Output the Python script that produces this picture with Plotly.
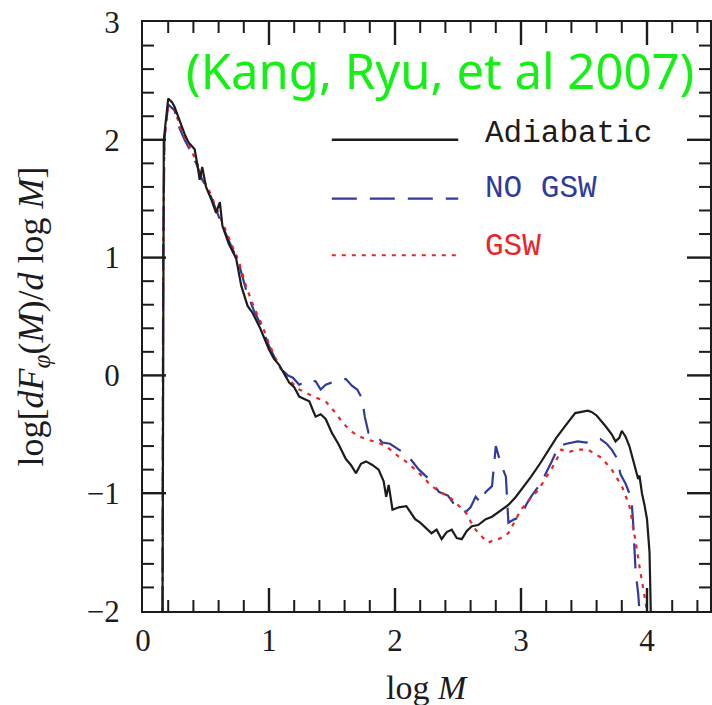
import plotly.graph_objects as go

# ---- data ----
adi_x = [0.155, 0.16, 0.165, 0.2, 0.23, 0.25, 0.29, 0.33, 0.36, 0.41, 0.43, 0.45, 0.47, 0.5, 0.54, 0.58,
         0.61, 0.63, 0.68, 0.74, 0.78, 0.83, 0.87, 0.93, 1.0, 1.04, 1.08, 1.12, 1.16, 1.2, 1.24, 1.28, 1.32,
         1.35, 1.37, 1.41, 1.45, 1.5, 1.55, 1.61, 1.65, 1.69, 1.73, 1.77, 1.82, 1.87, 1.91, 1.93, 1.95, 1.98,
         2.03, 2.09, 2.13, 2.16, 2.2, 2.25, 2.29, 2.33, 2.37, 2.41, 2.45, 2.49, 2.53, 2.57, 2.61, 2.66, 2.72,
         2.77, 2.82, 2.9, 2.96, 3.02, 3.08, 3.15, 3.22, 3.28, 3.35, 3.43, 3.48, 3.53, 3.56, 3.6, 3.67, 3.72,
         3.75, 3.78, 3.8, 3.83, 3.86, 3.9, 3.93, 3.94, 3.96, 3.98, 4.0, 4.02, 4.03]
adi_y = [-2.0, 1.0, 2.0, 2.35, 2.32, 2.28, 2.16, 2.05, 1.98, 1.92, 1.8, 1.66, 1.77, 1.6, 1.5, 1.38,
         1.47, 1.27, 1.12, 0.99, 0.76, 0.59, 0.53, 0.4, 0.22, 0.14, 0.09, 0.02, -0.06, -0.1, -0.18, -0.2, -0.22,
         -0.3, -0.35, -0.33, -0.37, -0.49, -0.58, -0.71, -0.76, -0.83, -0.75, -0.73, -0.76, -0.8, -0.9, -1.03,
         -0.93, -1.14, -1.12, -1.11, -1.17, -1.22, -1.25, -1.3, -1.34, -1.31, -1.39, -1.33, -1.31, -1.38, -1.39,
         -1.32, -1.28, -1.27, -1.22, -1.2, -1.16, -1.1, -1.03, -0.95, -0.86, -0.75, -0.63, -0.53, -0.43, -0.32,
         -0.31, -0.3, -0.31, -0.34, -0.43, -0.5, -0.56, -0.53, -0.47, -0.52, -0.6, -0.75, -0.88, -0.85, -1.0,
         -1.1, -1.22, -1.5, -2.0]

nogsw_x = [0.155, 0.16, 0.17, 0.2, 0.25, 0.29, 0.33, 0.38, 0.43, 0.47, 0.52, 0.58, 0.63, 0.7, 0.76, 0.82,
           0.88, 0.94, 1.0, 1.05, 1.1, 1.15, 1.19, 1.24, 1.3, 1.37, 1.41, 1.45, 1.5, 1.56, 1.61, 1.66, 1.7,
           1.74, 1.76, 1.79, 1.84, 1.9, 1.96, 2.03, 2.1, 2.19, 2.27, 2.35, 2.42, 2.48, 2.56, 2.6, 2.64, 2.68,
           2.72, 2.77, 2.8, 2.84, 2.88, 2.9, 2.95, 3.0, 3.04, 3.08, 3.16, 3.24, 3.3, 3.36, 3.45, 3.52, 3.58,
           3.63, 3.68, 3.72, 3.76, 3.79, 3.83, 3.86, 3.88, 3.89, 3.91, 3.93, 3.94]
nogsw_y = [-2.0, 1.0, 2.0, 2.3, 2.25, 2.1, 2.0, 1.9, 1.78, 1.66, 1.57, 1.4, 1.27, 1.1, 0.95, 0.72,
           0.55, 0.42, 0.25, 0.14, 0.05, 0.0, -0.02, -0.08, -0.04, -0.05, -0.12, -0.08, -0.06, -0.05, -0.03,
           -0.09, -0.12, -0.2, -0.35, -0.49, -0.5, -0.57, -0.58, -0.63, -0.68, -0.8, -0.88, -0.99, -1.02,
           -1.11, -1.16, -1.12, -1.03, -1.08, -0.99, -0.94, -0.6, -0.75, -0.86, -1.25, -1.22, -1.2, -1.1,
           -1.03, -0.91, -0.74, -0.6, -0.58, -0.56, -0.57, -0.54, -0.54, -0.58, -0.63, -0.7, -0.84, -0.92,
           -1.0, -1.1, -1.25, -1.67, -1.85, -2.0]

gsw_x = [0.155, 0.16, 0.17, 0.2, 0.25, 0.29, 0.33, 0.38, 0.43, 0.47, 0.52, 0.58, 0.63, 0.7, 0.76, 0.82,
         0.88, 0.94, 1.0, 1.05, 1.1, 1.16, 1.24, 1.3, 1.35, 1.45, 1.53, 1.57, 1.61, 1.66, 1.72, 1.8, 1.87,
         1.95, 2.03, 2.1, 2.16, 2.22, 2.29, 2.36, 2.43, 2.5, 2.56, 2.6, 2.64, 2.69, 2.74, 2.78, 2.82, 2.86,
         2.9, 2.95, 3.0, 3.07, 3.14, 3.19, 3.24, 3.28, 3.32, 3.38, 3.45, 3.53, 3.58, 3.64, 3.68, 3.72, 3.76,
         3.8, 3.83, 3.86, 3.88, 3.9, 3.92, 3.94, 3.96, 3.98, 4.0]
gsw_y = [-2.0, 1.0, 2.0, 2.28, 2.27, 2.12, 2.02, 1.92, 1.8, 1.68, 1.58, 1.42, 1.3, 1.12, 0.97, 0.75,
         0.58, 0.44, 0.27, 0.15, 0.04, -0.04, -0.12, -0.15, -0.18, -0.22, -0.32, -0.38, -0.43, -0.48, -0.52,
         -0.55, -0.57, -0.62, -0.69, -0.74, -0.8, -0.86, -0.94, -0.99, -1.03, -1.1, -1.16, -1.24, -1.31,
         -1.37, -1.42, -1.4, -1.39, -1.37, -1.34, -1.24, -1.14, -1.05, -0.97, -0.88, -0.8, -0.72, -0.63,
         -0.65, -0.63, -0.63, -0.66, -0.7, -0.75, -0.8, -0.87, -0.94, -1.02, -1.11, -1.22, -1.34, -1.48,
         -1.62, -1.75, -1.88, -2.0]

x_ticks = [0, 1, 2, 3, 4]
y_ticks = [-2, -1, 0, 1, 2, 3]
series_names = ["Adiabatic", "NO GSW", "GSW"]
citation = "(Kang, Ryu, et al 2007)"

# ---- styles ----
BLACK = "#1c1c1c"
BLUE = "#2f3c9c"
RED = "#e8262a"
styles = [dict(color=BLACK, width=2.2, dash="solid"),
          dict(color=BLUE, width=2.2, dash="25px,13px"),
          dict(color=RED, width=2.2, dash="4px,6px")]
SERIF = "Liberation Serif"
MONO = "Liberation Mono"
X_RANGE = [0, 4.5]
Y_RANGE = [-2, 3]
W, H = 712, 705
ML, MR, MT, MB = 143, 2, 22, 94
PLOT_W, PLOT_H = W - ML - MR, H - MT - MB
MAJOR_LEN, MINOR_LEN = 23, 11
MINOR_STEP = 0.2

fig = go.Figure()
for (xs, ys), name, st in zip([(nogsw_x, nogsw_y), (gsw_x, gsw_y), (adi_x, adi_y)],
                              [series_names[1], series_names[2], series_names[0]],
                              [styles[1], styles[2], styles[0]]):
    fig.add_trace(go.Scatter(x=xs, y=ys, mode="lines", name=name, line=st, showlegend=False))

axis_common = dict(showline=True, linewidth=2, linecolor=BLACK, mirror=True, ticks="",
                   showgrid=False, zeroline=False, tickmode="array",
                   tickfont=dict(family=SERIF, size=31, color=BLACK))
fig.update_layout(
    template="none",
    xaxis=dict(range=X_RANGE, tickvals=x_ticks, ticklabelstandoff=1, **axis_common),
    yaxis=dict(range=Y_RANGE, tickvals=y_ticks, ticklabelstandoff=15, **axis_common),
)

# inward tick marks on all four sides: positioned on the axis scale, length in paper units
def tick_positions(lo, hi, step):
    n = int(round((hi - lo) / step))
    return [round(lo + i * step, 6) for i in range(n + 1)]

for v in tick_positions(X_RANGE[0], X_RANGE[1], MINOR_STEP):
    if v <= X_RANGE[0] or v >= X_RANGE[1]:
        continue
    is_major = any(abs(v - t) < 1e-6 for t in x_ticks)
    L = (MAJOR_LEN if is_major else MINOR_LEN) / PLOT_H
    w = 2.4 if is_major else 2
    for y0, y1 in ((0, L), (1, 1 - L)):
        fig.add_shape(type="line", xref="x", yref="paper", x0=v, x1=v, y0=y0, y1=y1,
                      line=dict(color=BLACK, width=w), layer="above")
for v in tick_positions(Y_RANGE[0], Y_RANGE[1], MINOR_STEP):
    if v <= Y_RANGE[0] or v >= Y_RANGE[1]:
        continue
    is_major = any(abs(v - t) < 1e-6 for t in y_ticks)
    L = (MAJOR_LEN if is_major else MINOR_LEN) / PLOT_W
    w = 2.4 if is_major else 2
    for x0, x1 in ((0, L), (1, 1 - L)):
        fig.add_shape(type="line", yref="y", xref="paper", y0=v, y1=v, x0=x0, x1=x1,
                      line=dict(color=BLACK, width=w), layer="above")

# legend drawn by hand (line samples + labels) in paper coords
line_y = [0.800, 0.700, 0.604]
label_y = [0.8115, 0.7165, 0.618]
for st, name, ly, ty in zip(styles, series_names, line_y, label_y):
    fig.add_shape(type="line", xref="paper", yref="paper", x0=0.333, x1=0.556, y0=ly, y1=ly,
                  line=dict(color=st["color"], width=2.2 if st["dash"] != "solid" else 2.5, dash=st["dash"]))
    fig.add_annotation(xref="paper", yref="paper", x=0.600, y=ty, xanchor="left", yanchor="middle",
                       text=name, showarrow=False,
                       font=dict(family=MONO, size=31, color=st["color"]))

fig.add_annotation(xref="paper", yref="paper", x=0.524, y=0.918, xanchor="center", yanchor="middle",
                   text=citation, showarrow=False,
                   font=dict(family="Noto Sans", size=49, color="#14f014"))

fig.add_annotation(xref="paper", yref="paper", x=0.5, y=0, xanchor="center", yanchor="middle",
                   yshift=-76, text="log\u00a0<i>M</i>", showarrow=False,
                   font=dict(family=SERIF, size=34, color=BLACK))
fig.add_annotation(xref="paper", yref="paper", x=0, y=0.5, xanchor="center", yanchor="middle",
                   xshift=-110, textangle=-90,
                   text="log[<i>dF</i><sub><i>φ</i></sub>(<i>M</i>)/<i>d</i>\u00a0log\u00a0<i>M</i>]",
                   showarrow=False, font=dict(family=SERIF, size=36, color=BLACK))

fig.update_layout(width=W, height=H, margin=dict(l=ML, r=MR, t=MT, b=MB),
                  paper_bgcolor="white", plot_bgcolor="white", showlegend=False)
fig.write_html("out.html")
